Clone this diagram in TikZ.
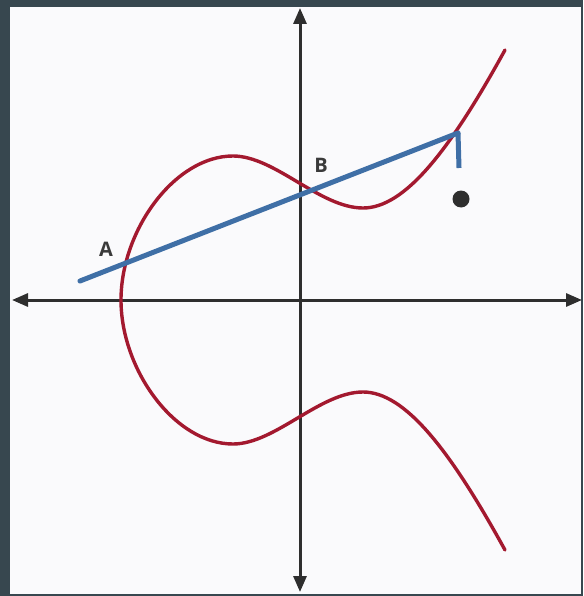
\documentclass[tikz,border=0pt]{standalone}
\usepackage{fontspec}
\newfontfamily\labelfont{Open Sans}
\usepackage{tikz}
\usetikzlibrary{arrows.meta}
\definecolor{FrameSlate}{HTML}{37474F}
\definecolor{PaperWhite}{HTML}{FAFAFC}
\definecolor{CurveRed}{HTML}{A3192F}
\definecolor{ChordBlue}{HTML}{3F6FA6}
\definecolor{AxisInk}{HTML}{2E2E2E}
\definecolor{LabelInk}{HTML}{3A3A3A}
\begin{document}
\begin{tikzpicture}[x=1pt, y=-1pt,
    every node/.style={font=\labelfont\bfseries\fontsize{20}{22}\selectfont, text=LabelInk},
    axis/.style={draw=AxisInk, line width=3pt,
      {Triangle[length=16pt,width=13pt]}-{Triangle[length=16pt,width=13pt]}},
    curve/.style={draw=CurveRed, line width=3.4pt},
    chord/.style={draw=ChordBlue, line width=5pt}]
  % frame and paper
  \fill[FrameSlate] (0,0) rectangle (583,596);
  \fill[PaperWhite] (10,7) rectangle (581,594);
  % axes
  \coordinate (yTop) at (300,8);
  \coordinate (yBot) at (300,592);
  \coordinate (xLeft) at (12,300);
  \coordinate (xRight) at (582,300);
  \draw[axis] (yBot) -- (yTop);
  \draw[axis] (xLeft) -- (xRight);
  % the curve: upper branch down to the root, then the mirrored lower branch
  \draw[curve, line cap=round]
    (505,50) .. controls (450,150) and (405,208) .. (363,208)
             .. controls (320,208) and (275,156) .. (233,156)
             .. controls (175,156) and (121,230) .. (121,300)
             .. controls (121,370) and (175,444) .. (233,444)
             .. controls (275,444) and (320,392) .. (363,392)
             .. controls (405,392) and (450,450) .. (505,550);
  % chord through A and B
  \coordinate (chordStart) at (80,281);
  \coordinate (P) at (458,133);
  \coordinate (stubEnd) at (459,168);
  \draw[chord, line cap=round] (chordStart) -- (P);
  \draw[chord] (P) -- (stubEnd);
  % labels and the point
  \node (labA) at (106,249) {A};
  \node (labB) at (321,165) {B};
  \node[circle, fill=AxisInk, inner sep=0pt, minimum size=17pt] (dot) at (461,199) {};
\end{tikzpicture}
\end{document}
